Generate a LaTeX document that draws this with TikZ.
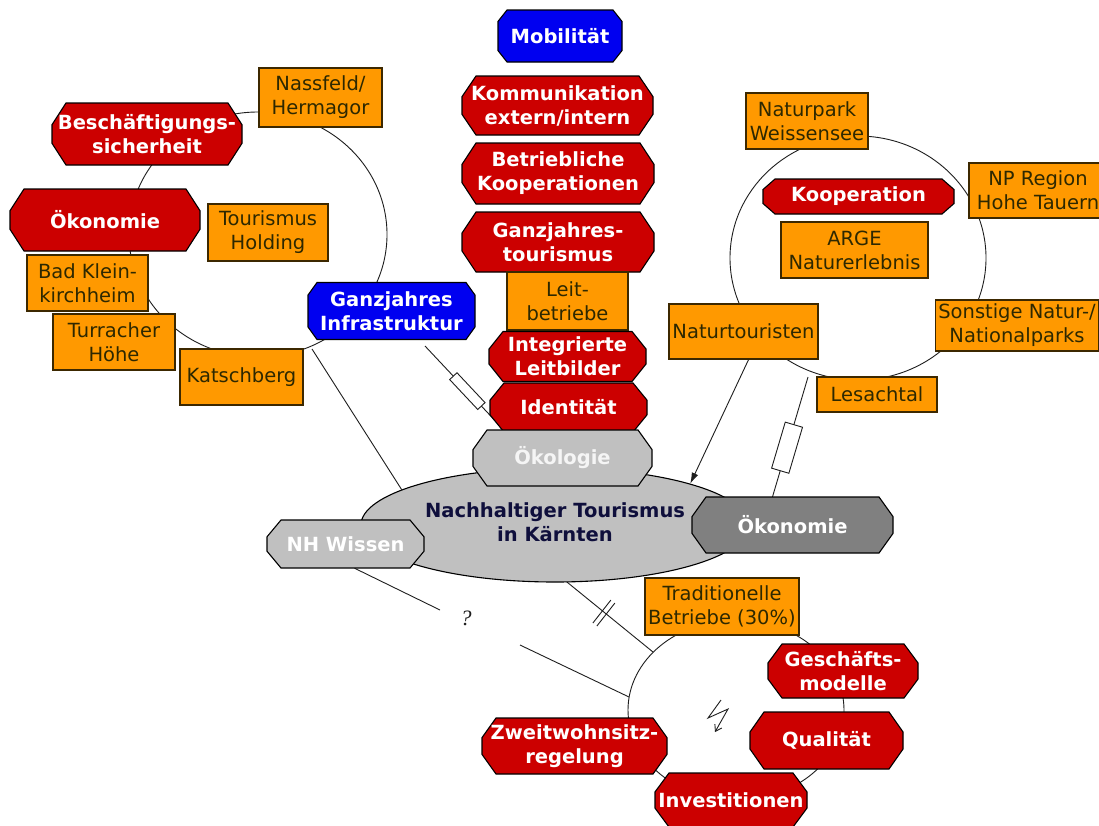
\documentclass[tikz,border=0pt]{standalone}
\usepackage{fontspec}
\setmainfont{DejaVu Sans}
\newfontfamily\serifq{Liberation Serif}
\usetikzlibrary{arrows.meta,calc,shapes.geometric}
\pgfdeclarelayer{back}
\pgfdeclarelayer{bg}
\pgfsetlayers{back,bg,main}
\definecolor{dred}{RGB}{204,0,0}
\definecolor{dblue}{RGB}{0,0,240}
\definecolor{orng}{RGB}{255,153,0}
\definecolor{lgray}{RGB}{192,192,192}
\definecolor{mgray}{RGB}{128,128,128}
\definecolor{otext}{RGB}{45,40,0}
\definecolor{navy}{RGB}{15,15,60}
\definecolor{lncol}{RGB}{30,30,30}
\definecolor{oborder}{RGB}{60,40,0}
\newcommand\octcx{14}
\newcommand\octcf{0.35}
\newcommand\octo[8]{%
  \path[octline,#6] ({#2-#4/2+\octcx},{#3-#5/2}) -- ({#2+#4/2-\octcx},{#3-#5/2})
    -- ({#2+#4/2},{#3-#5/2+\octcf*#5}) -- ({#2+#4/2},{#3+#5/2-\octcf*#5})
    -- ({#2+#4/2-\octcx},{#3+#5/2}) -- ({#2-#4/2+\octcx},{#3+#5/2})
    -- ({#2-#4/2},{#3+#5/2-\octcf*#5}) -- ({#2-#4/2},{#3-#5/2+\octcf*#5}) -- cycle;
  \node[octtext,minimum width=#4pt,minimum height=#5pt,#7] (#1) at (#2,#3) {#8};
}
\tikzset{
  octline/.style={draw=black, line width=1.1pt},
  octtext/.style={align=center, inner sep=0pt, font=\fontsize{19.5}{24}\selectfont\bfseries, text=white},
  obox/.style={draw=oborder, line width=1.4pt, fill=orng, align=center, inner sep=0pt, text=otext, font=\fontsize{19.5}{24}\selectfont},
  conn/.style={draw=lncol, line width=0.9pt},
  ring/.style={draw=lncol, line width=0.9pt},
  resbox/.style={draw=lncol, fill=white, line width=0.9pt, inner sep=0pt, sloped},
}
\begin{document}
\begin{tikzpicture}[x=1pt,y=-1pt]
\useasboundingbox (0,0) rectangle (1099,825);
\begin{pgfonlayer}{back}
\fill[white] (0,0) rectangle (1099,825);
\end{pgfonlayer}

% ---------- top column ----------
\renewcommand\octcx{9}\renewcommand\octcf{0.22}
\octo{mob}{560}{36}{124}{52}{fill=dblue}{}{Mobilität}
\octo{infra}{391.5}{311}{167}{57}{fill=dblue}{}{Ganzjahres\\Infrastruktur}
\renewcommand\octcx{14}\renewcommand\octcf{0.35}
\octo{komm}{557.5}{105.5}{191}{59}{fill=dred}{}{Kommunikation\\extern/intern}
\octo{betr}{558}{173.5}{192}{61}{fill=dred}{}{Betriebliche\\Kooperationen}
\octo{ganz}{558}{242}{192}{60}{fill=dred}{}{Ganzjahres-\\tourismus}
\node[obox, minimum width=121pt, minimum height=58pt] (leit) at (567.5,301) {Leit-\\betriebe};
\octo{integ}{567.5}{356.5}{157}{50}{fill=dred}{}{Integrierte\\Leitbilder}
\octo{ident}{568.5}{407.5}{157}{49}{fill=dred}{}{Identität}

% ---------- centre ----------
\node[ellipse, draw=black, line width=1.1pt, fill=lgray, minimum width=388pt, minimum height=114pt,
      inner sep=0pt] (nt) at (555,525) {};
\node[align=center, inner sep=0pt, text=navy, font=\fontsize{19.5}{24}\selectfont\bfseries] (ntt) at (555,522) {Nachhaltiger Tourismus\\in Kärnten};
\octo{oeko}{562.5}{458}{179}{56}{fill=lgray}{text={rgb,255:red,245;green,245;blue,245}}{Ökologie}
\octo{nhw}{345.5}{544}{157}{48}{fill=lgray}{}{NH Wissen}
\octo{oekR}{792.5}{525}{201}{56}{fill=mgray}{}{Ökonomie}

% ---------- left cluster ----------
\octo{besch}{147}{134}{190}{62}{fill=dred}{}{Beschäftigungs-\\sicherheit}
\octo{oekL}{105}{220}{190}{62}{fill=dred}{}{Ökonomie}
\node[obox, minimum width=123pt, minimum height=59pt] (nass) at (320.5,97.5) {Nassfeld/\\Hermagor};
\node[obox, minimum width=120pt, minimum height=57pt] (hold) at (268,232.5) {Tourismus\\Holding};
\node[obox, minimum width=121pt, minimum height=56pt] (badk) at (87.5,283) {Bad Klein-\\kirchheim};
\node[obox, minimum width=122pt, minimum height=56pt] (turr) at (114,342) {Turracher\\Höhe};
\node[obox, minimum width=123pt, minimum height=56pt] (kats) at (241.5,377) {Katschberg};

% ---------- right cluster ----------
\node[obox, minimum width=122pt, minimum height=56pt] (natp) at (807,121) {Naturpark\\Weissensee};
\node[obox, minimum width=138pt, minimum height=55pt] (npreg) at (1038,190.5) {NP Region\\Hohe Tauern};
\renewcommand\octcx{12}\renewcommand\octcf{0.3}
\octo{koop}{858.5}{196.5}{191}{35}{fill=dred}{}{Kooperation}
\renewcommand\octcx{14}\renewcommand\octcf{0.35}
\node[obox, minimum width=147pt, minimum height=56pt] (arge) at (854.5,250) {ARGE\\Naturerlebnis};
\node[obox, minimum width=149pt, minimum height=55pt] (natt) at (743.5,331.5) {Naturtouristen};
\node[obox, minimum width=163pt, minimum height=51pt] (sonst) at (1017,325.5) {Sonstige Natur-/\\Nationalparks};
\node[obox, minimum width=120pt, minimum height=35pt] (lesa) at (877,394.5) {Lesachtal};

% ---------- bottom cluster ----------
\node[obox, minimum width=154pt, minimum height=57pt] (trad) at (722,606.5) {Traditionelle\\Betriebe (30\%)};
\octo{gesch}{843}{671}{150}{54}{fill=dred}{}{Geschäfts-\\modelle}
\octo{qual}{826.5}{740.5}{153}{57}{fill=dred}{}{Qualität}
\octo{zweit}{574.5}{746}{185}{56}{fill=dred}{}{Zweitwohnsitz-\\regelung}
\octo{invest}{731}{800}{152}{54}{fill=dred}{}{Investitionen}

\node[inner sep=0pt, font=\serifq\itshape\fontsize{22}{24}\selectfont, text=lncol] (q) at (466,618) {?};

% ---------- rings and connectors (behind) ----------
\begin{pgfonlayer}{bg}
\draw[ring] (258,234.5) ellipse [x radius=129, y radius=122.5];
\draw[ring] (858,258) ellipse [x radius=128, y radius=122];
\draw[ring] (736,710) ellipse [x radius=108, y radius=90];

\coordinate (a1) at (312,349);
\draw[conn] (a1) -- (nt.167);

\coordinate (b1) at (425,346);
\coordinate (b2) at (502,428);
\draw[conn] (b1) -- node[resbox, pos=0.55, minimum width=41pt, minimum height=10pt] (r1) {} (b2);

\coordinate (d1) at (808,377);
\draw[conn] (d1) -- node[resbox, pos=0.59, minimum width=48pt, minimum height=18pt] (r2) {} ($(oekR.north)+(-20,0)$);

\coordinate (e1) at (440,610);
\coordinate (e2) at (520,645);
\coordinate (e3) at (629,697);
\draw[conn] ($(nhw.south)+(9,0)$) -- (e1);
\draw[conn] (e2) -- (e3);

\coordinate (f1) at (562,578);
\coordinate (f2) at (653,652);
\draw[conn] (f1) -- (f2);
\coordinate (mk) at ($(f1)!0.46!(f2)$);
\draw[conn] ($(mk)+(-11,11)$) -- ($(mk)+(7,-12)$);
\draw[conn] ($(mk)+(-7,14)$) -- ($(mk)+(11,-9)$);
\end{pgfonlayer}

% arrow from Naturtouristen to the centre
\draw[conn, -{Latex[length=11pt,width=7pt]}] ($(natt.south)+(5,0)$) -- (nt.17);

% lightning
\coordinate (l1) at (721,700);
\coordinate (l2) at (708,718);
\coordinate (l3) at (728,709);
\coordinate (l4) at (715,732);
\draw[conn, -{Straight Barb[length=6pt,width=8pt]}] (l1) -- (l2) -- (l3) -- (l4);
\end{tikzpicture}
\end{document}
